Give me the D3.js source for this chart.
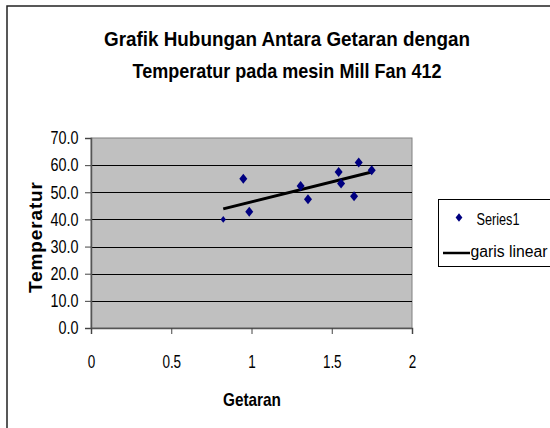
<!DOCTYPE html>
<html><head><meta charset="utf-8">
<script src="https://cdn.jsdelivr.net/npm/d3@7"></script>
<style>
html,body{margin:0;padding:0;background:#fff;}
svg{display:block;font-family:"Liberation Sans",Arial,sans-serif;}
</style></head>
<body>
<svg id="c" width="550" height="428"></svg>
<script>
const titleLines = ["Grafik Hubungan Antara Getaran dengan", "Temperatur pada mesin Mill Fan 412"];
const xTitle = "Getaran";
const yTitle = "Temperatur";
const xTicks = [0, 0.5, 1, 1.5, 2];
const yTicks = [0, 10, 20, 30, 40, 50, 60, 70];
const getaran = [0.824, 0.949, 0.986, 1.306, 1.352, 1.543, 1.558, 1.639, 1.668, 1.749];
const temperatur = [40.0, 55.0, 42.8, 52.3, 47.4, 57.5, 53.2, 48.5, 61.0, 58.1];
const trendX = [0.824, 1.749];
const trendY = [43.9, 57.5];
const legendNames = ["Series1", "garis linear"];

const svg = d3.select("#c");
const L = 91, R = 412, T = 138, B = 328;
const x = d3.scaleLinear().domain([0, 2]).range([L, R]);
const y = d3.scaleLinear().domain([0, 70]).range([B, T]);

// outer chart border (right/bottom are clipped off-screen)
svg.append("rect").attr("x", 7).attr("y", 6).attr("width", 560).attr("height", 440)
  .attr("fill", "#fff").attr("stroke", "#222").attr("stroke-width", 1.5);

// title
const titleW = [366, 309];
svg.append("g").selectAll("text").data(titleLines).join("text")
  .attr("x", 287).attr("y", (d, i) => 46 + i * 32)
  .attr("text-anchor", "middle").attr("font-weight", "bold").attr("font-size", 21)
  .attr("textLength", (d, i) => titleW[i]).attr("lengthAdjust", "spacingAndGlyphs")
  .text(d => d);

// plot area
svg.append("rect").attr("x", L).attr("y", T).attr("width", R - L).attr("height", B - T)
  .attr("fill", "#c0c0c0").attr("stroke", "#808080").attr("stroke-width", 1);

// gridlines
svg.append("g").selectAll("line").data(yTicks.filter(v => v > 0 && v < 70)).join("line")
  .attr("x1", L).attr("x2", R).attr("y1", d => Math.round(y(d)) + 0.5).attr("y2", d => Math.round(y(d)) + 0.5)
  .attr("stroke", "#000").attr("stroke-width", 1);

// axes
const yAxis = d3.axisLeft(y).tickValues(yTicks).tickFormat(d3.format(".1f")).tickSize(6);
const gy = svg.append("g").attr("transform", `translate(${L},0)`).call(yAxis);
const xAxis = d3.axisBottom(x).tickValues(xTicks).tickFormat(d => String(d)).tickSize(6).tickPadding(21);
const gx = svg.append("g").attr("transform", `translate(0,${B})`).call(xAxis);
[gx, gy].forEach(g => {
  g.select(".domain").attr("stroke", "#555").attr("stroke-width", 1.5);
  g.selectAll(".tick line").attr("stroke", "#444");
  g.selectAll(".tick text").attr("font-size", 18).attr("fill", "#000")
    .attr("font-family", "'Liberation Sans',Arial,sans-serif");
});
const sy = 0.8, sx = 0.75;
gy.selectAll(".tick text").attr("x", -12.5 / sy).attr("transform", `scale(${sy},1)`);
gx.selectAll(".tick text").attr("transform", `scale(${sx},1)`);

// axis titles
svg.append("text").attr("x", 252).attr("y", 406).attr("text-anchor", "middle")
  .attr("font-weight", "bold").attr("font-size", 19)
  .attr("textLength", 58).attr("lengthAdjust", "spacingAndGlyphs").text(xTitle);
svg.append("text").attr("transform", "translate(42,237.5) rotate(-90)").attr("text-anchor", "middle")
  .attr("font-weight", "bold").attr("font-size", 19)
  .attr("textLength", 111).attr("lengthAdjust", "spacing").text(yTitle);

// trend line
const pts = trendX.map((v, i) => [x(v), y(trendY[i])]);
svg.append("path").attr("d", d3.line()(pts)).attr("stroke", "#000").attr("stroke-width", 3).attr("fill", "none");

// diamonds
const diamond = (s) => `M0,${-s * 1.25}L${s},0L0,${s * 1.25}L${-s},0Z`;
svg.append("g").selectAll("path").data(getaran).join("path")
  .attr("transform", (d, i) => `translate(${x(d)},${y(temperatur[i])})`)
  .attr("d", (d, i) => diamond(i === 0 ? 2.7 : 4))
  .attr("fill", "#000080");

// legend
const lg = svg.append("g");
lg.append("rect").attr("x", 438.5).attr("y", 199.5).attr("width", 130).attr("height", 67)
  .attr("fill", "#fff").attr("stroke", "#000").attr("stroke-width", 1);
lg.append("path").attr("transform", "translate(459,217.5)").attr("d", diamond(3.4)).attr("fill", "#000080");
lg.append("text").attr("x", 476.5).attr("y", 224.5).attr("font-size", 16)
  .attr("textLength", 43).attr("lengthAdjust", "spacingAndGlyphs").text(legendNames[0]);
lg.append("line").attr("x1", 443).attr("x2", 470).attr("y1", 253).attr("y2", 253).attr("stroke", "#000").attr("stroke-width", 2.5);
lg.append("text").attr("x", 470.5).attr("y", 257).attr("font-size", 16)
  .attr("textLength", 77).attr("lengthAdjust", "spacingAndGlyphs").text(legendNames[1]);
</script>
</body></html>
